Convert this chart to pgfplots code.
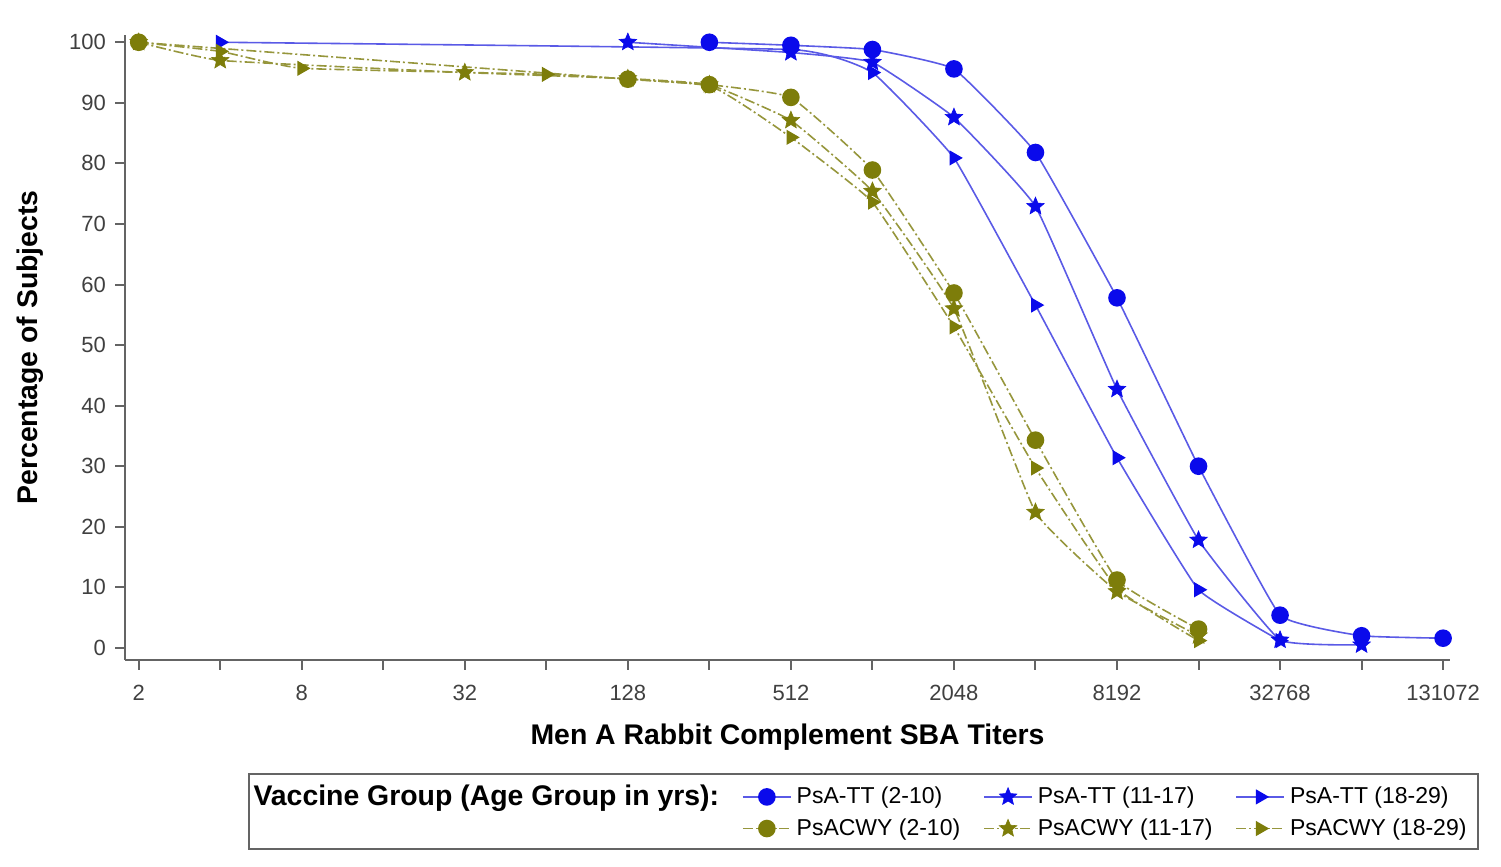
\documentclass[border=0pt]{standalone}
\usepackage{fontspec}
\setmainfont{Liberation Sans}
\usepackage{pgfplots}
\pgfplotsset{compat=1.18}
\definecolor{bmark}{RGB}{10,10,235}
\definecolor{bline}{RGB}{90,90,230}
\definecolor{omark}{RGB}{125,125,10}
\definecolor{oline}{RGB}{150,150,60}
\definecolor{axgray}{RGB}{100,100,100}
\pgfdeclareplotmark{fstar}{%
  \pgfpathmoveto{\pgfpointpolar{90}{\pgfplotmarksize}}%
  \pgfpathlineto{\pgfpointpolar{126}{0.45\pgfplotmarksize}}%
  \pgfpathlineto{\pgfpointpolar{162}{\pgfplotmarksize}}%
  \pgfpathlineto{\pgfpointpolar{198}{0.45\pgfplotmarksize}}%
  \pgfpathlineto{\pgfpointpolar{234}{\pgfplotmarksize}}%
  \pgfpathlineto{\pgfpointpolar{270}{0.45\pgfplotmarksize}}%
  \pgfpathlineto{\pgfpointpolar{306}{\pgfplotmarksize}}%
  \pgfpathlineto{\pgfpointpolar{342}{0.45\pgfplotmarksize}}%
  \pgfpathlineto{\pgfpointpolar{18}{\pgfplotmarksize}}%
  \pgfpathlineto{\pgfpointpolar{54}{0.45\pgfplotmarksize}}%
  \pgfpathclose
  \pgfusepathqfillstroke
}
\begin{document}
\begin{tikzpicture}
\useasboundingbox (-62.5pt,-103.5pt) rectangle (688pt,330pt);
\begin{axis}[
  scale only axis,
  width=662.5pt, height=312.5pt,
  xmode=log, log basis x=2,
  xmin=1.78, xmax=139000,
  ymin=-2, ymax=101.2,
  axis lines=left,
  axis line style={-, axgray, line width=1.2pt},
  tick style={axgray, line width=1pt},
  tick align=outside,
  major tick length=5pt,
  xtick={2,4,8,16,32,64,128,256,512,1024,2048,4096,8192,16384,32768,65536,131072},
  xticklabels={2,,8,,32,,128,,512,,2048,,8192,,32768,,131072},
  ytick={0,10,...,100},
  tick label style={font=\fontsize{11}{12}\selectfont, text=black!75},
  /pgf/number format/assume math mode=true,
  xticklabel style={yshift=-4pt},
  yticklabel style={xshift=-1pt},
  xlabel={\textbf{Men A Rabbit Complement SBA Titers}},
  ylabel={\textbf{Percentage of Subjects}},
  label style={font=\fontsize{14.2}{16}\selectfont},
  xlabel style={yshift=-5pt},
  ylabel style={yshift=6pt},
  legend columns=4,
  legend image code/.code={%
    \draw[mark repeat=2,mark phase=2,#1] plot coordinates {(0pt,0pt) (12pt,0pt) (24pt,0pt)};},
  legend style={at={(0.557,-0.181)}, anchor=north, draw=axgray, line width=1pt,
    font=\fontsize{11.5}{13}\selectfont, inner xsep=4pt, inner ysep=4pt,
    row sep=2pt,
    /tikz/every odd column/.append style={column sep=1pt},
    /tikz/every even column/.append style={column sep=10pt},
    nodes={inner sep=1.5pt}},
  legend cell align=left,
  every axis plot/.append style={line width=0.8pt},
]
\addlegendimage{empty legend}
\addlegendentry{\hspace{-4pt}\textbf{\fontsize{14.2}{16}\selectfont Vaccine Group (Age Group in yrs):}}

\addplot[bline, smooth, tension=0.2, mark=*, mark size=4pt, mark options={bmark, fill=bmark}]
coordinates {(256,100) (512,99.5) (1024,98.8) (2048,95.6) (4096,81.8) (8192,57.8) (16384,30) (32768,5.4) (65536,2) (131072,1.6)};
\addlegendentry{PsA-TT (2-10)}

\addplot[bline, smooth, tension=0.2, mark=fstar, mark size=4.6pt, mark options={bmark, fill=bmark, line width=0.3pt}]
coordinates {(128,100) (512,98.3) (1024,96.7) (2048,87.6) (4096,72.9) (8192,42.7) (16384,17.8) (32768,1.3) (65536,0.5)};
\addlegendentry{PsA-TT (11-17)}

\addplot[bline, smooth, tension=0.2, mark=triangle*, mark size=3.6pt, mark options={bmark, fill=bmark, rotate=-90}]
coordinates {(4,100) (512,98.8) (1024,95) (2048,80.9) (4096,56.6) (8192,31.4) (16384,9.6) (32768,1.2)};
\addlegendentry{PsA-TT (18-29)}

\addlegendimage{empty legend}
\addlegendentry{}

\addplot[oline, smooth, tension=0.2, dash pattern=on 5pt off 1.5pt on 1pt off 1.5pt, mark=*, mark size=4pt, mark options={omark, fill=omark, solid}]
coordinates {(2,100) (128,93.9) (256,93) (512,90.9) (1024,78.9) (2048,58.6) (4096,34.3) (8192,11.2) (16384,3.1)};
\addlegendentry{PsACWY (2-10)}

\addplot[oline, smooth, tension=0.2, dash pattern=on 5pt off 1.5pt on 1pt off 1.5pt, mark=fstar, mark size=4.6pt, mark options={omark, fill=omark, solid, line width=0.3pt}]
coordinates {(2,100) (4,97) (32,95) (128,94) (256,93) (512,87.1) (1024,75.4) (2048,56) (4096,22.4) (8192,9.3) (16384,2)};
\addlegendentry{PsACWY (11-17)}

\addplot[oline, smooth, tension=0.2, dash pattern=on 5pt off 1.5pt on 1pt off 1.5pt, mark=triangle*, mark size=3.6pt, mark options={omark, fill=omark, solid, rotate=-90}]
coordinates {(2,100) (4,98.5) (8,95.7) (64,94.7) (256,92.8) (512,84.3) (1024,73.6) (2048,53) (4096,29.7) (8192,9.8) (16384,1.2)};
\addlegendentry{PsACWY (18-29)}
\end{axis}
\end{tikzpicture}
\end{document}
